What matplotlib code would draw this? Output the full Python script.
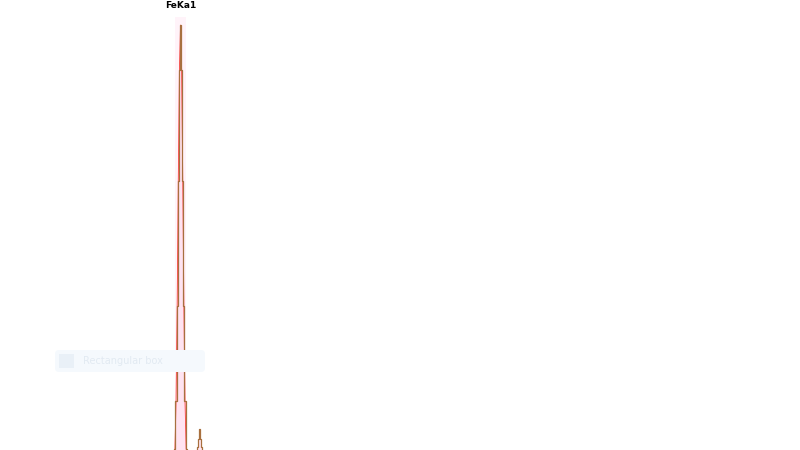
import matplotlib
matplotlib.use("Agg")
import matplotlib.pyplot as plt
from matplotlib.patches import FancyBboxPatch, Rectangle
import numpy as np

# Spectrum channels (keV) and counts around the Fe K lines
energy_keV = [6.172, 6.210, 6.248, 6.286, 6.324, 6.362, 6.400, 6.438, 6.476, 6.514,
              6.552, 6.590, 6.628,
              6.94, 6.974, 7.008, 7.042, 7.076, 7.110, 7.144]
counts = [0, 50, 1180, 3420, 6360, 8950, 10010, 8950, 6360, 3420,
          1180, 50, 0,
          0, 100, 300, 520, 300, 100, 0]

peak_label = "FeKa1"
peak_energy = 6.40
peak_label_count = 10470
watermark = "Rectangular box"

fig = plt.figure(figsize=(8, 4.5), dpi=100)
ax = fig.add_axes([0, 0, 1, 1])
ax.set_xlim(0.28, 27.4)
ax.set_ylim(30, 10600)
ax.axis("off")

e = np.array(energy_keV)
c = np.array(counts)

# ROI highlight
ax.axvspan(6.22, 6.58, ymin=0, ymax=0.962, color="#fff3f9", zorder=0, lw=0)
ax.fill_between(e, c, 0, step="mid", color="#ffe0f0", alpha=0.8, lw=0, zorder=1)
ax.plot(e[:13], c[:13], color="#ff3a3a", lw=0.6, zorder=2)
ax.step(e, c, where="mid", color="#a8703f", lw=0.9, zorder=3)

ax.text(peak_energy, peak_label_count, peak_label, ha="center", va="center",
        fontsize=6.5, fontweight="bold", color="black")

# faint watermark box (figure pixel coordinates, origin bottom-left)
box = FancyBboxPatch((55, 450 - 372), 150, 22, boxstyle="round,pad=0,rounding_size=4",
                     transform=None, facecolor="#f5f9fd", edgecolor="none", zorder=0.5)
fig.patches.append(box)
fig.patches.append(Rectangle((59, 450 - 368), 15, 14, transform=None,
                             facecolor="#e9f0f7", edgecolor="none"))
fig.text(83 / 800, 1 - 361 / 450, watermark, ha="left", va="center",
         fontsize=7, color="#e2eaf2")

fig.savefig("out.png", dpi=100)
